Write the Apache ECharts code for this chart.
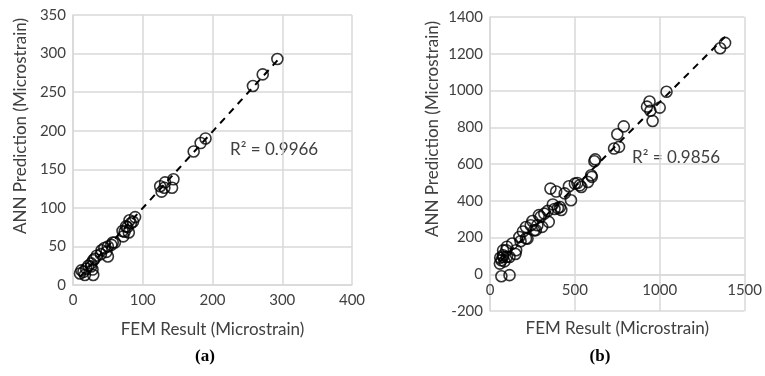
<!DOCTYPE html>
<html>
<head>
<meta charset="utf-8">
<script src="https://cdn.jsdelivr.net/npm/echarts@6/dist/echarts.min.js"></script>
<style>html,body{margin:0;padding:0;background:#fff}#c{width:765px;height:376px}</style>
</head>
<body>
<div id="c"></div>
<script>
// ---- Panel (a) data ----
const femA = [293,272,258,190,183,173,144,142,132,127,81,83,78,74,72,80,86,50,45,55,50,48,29,26,34,26,29,12,17,10,19,40,60,28,15,76,131,125,89,71,57,41,22,31];
const annA = [293,273,258,190,184,173,137,126,133,121,84,80,75,69,63,68,82,50,48,52,37,43,32,28,38,24,13,19,13,15,21,40,55,20,17,76,126,128,88,70,55,45,25,34];
const trendAx = [10, 295];
const trendAy = [10.5, 293];
const r2A = 'R² = 0.9966';

// ---- Panel (b) data ----
const femB = [1385,1356,1040,1000,940,925,958,945,788,750,760,731,615,620,600,577,515,538,465,477,440,356,390,412,420,370,346,288,298,307,270,250,279,212,240,260,194,173,212,221,131,100,154,96,100,77,115,77,67,58,77,67,115,380,400,500,529,596,320,340,150,180,60,85];
const annB = [1259,1230,993,907,940,912,834,890,805,762,693,684,615,625,530,502,497,475,479,403,440,466,450,366,350,380,285,322,312,258,240,290,267,257,267,239,233,203,195,194,167,150,131,131,95,94,94,103,76,58,130,-11,-5,355,360,493,484,539,330,345,110,180,90,70];
const trendBx = [58, 1385];
const trendBy = [68, 1292];
const r2B = 'R² = 0.9856';

const xTitle = 'FEM Result (Microstrain)';
const yTitle = 'ANN Prediction (Microstrain)';
const xTicksA = {min:0, max:400, interval:100};
const yTicksA = {min:0, max:350, interval:50};
const xTicksB = {min:0, max:1500, interval:500};
const yTicksB = {min:-200, max:1400, interval:200};

const pairs = (xs, ys) => xs.map((x, i) => [x, ys[i]]);

const FONT = 'Lato';
const labelColor = '#404040';
const gridColor = '#d9d9d9';

// grid geometry
const gA = {left:73, top:15, width:279, height:270};
const gB = {left:490, top:17, width:260, height:294};
// offset moving panel (b)'s x axis up to its zero line (Excel style crossing)
const zeroOffB = -gB.height * (0 - yTicksB.min) / (yTicksB.max - yTicksB.min);

function xAxisCfg(idx, t, gap, off) {
  return {
    type:'value', gridIndex: idx, min:t.min, max:t.max, interval:t.interval,
    position:'bottom', offset: off,
    name: xTitle, nameLocation:'middle', nameGap: gap,
    nameTextStyle:{fontFamily:FONT, fontSize:17, color:labelColor},
    axisLine:{show:true, onZero:false, lineStyle:{color:gridColor, width:1.5}},
    axisTick:{show:false},
    axisLabel:{fontFamily:FONT, fontSize:15, color:labelColor, margin:8, formatter: v => String(v)},
    splitLine:{show:true, lineStyle:{color:gridColor, width:1.5}}
  };
}
function yAxisCfg(idx, t) {
  return {
    type:'value', gridIndex: idx, min:t.min, max:t.max, interval:t.interval,
    axisLine:{show:true, onZero:false, lineStyle:{color:gridColor, width:1.5}},
    axisTick:{show:false},
    axisLabel:{fontFamily:FONT, fontSize:15, color:labelColor, margin:7, formatter: v => String(v)},
    splitLine:{show:true, lineStyle:{color:gridColor, width:1.5}}
  };
}
function scatter(idx, xs, ys) {
  return {
    type:'scatter', xAxisIndex: idx, yAxisIndex: idx,
    data: pairs(xs, ys), symbol:'circle', symbolSize: 11,
    itemStyle:{color:'rgba(0,0,0,0)', borderColor:'#000', borderWidth:1.6},
    emphasis:{disabled:true}, z:3
  };
}
function trend(idx, xs, ys) {
  return {
    type:'line', xAxisIndex: idx, yAxisIndex: idx,
    data: pairs(xs, ys), symbol:'none',
    lineStyle:{color:'#000', width:2, type:[7,6]}, z:4, silent:true
  };
}

const chart = echarts.init(document.getElementById('c'), null, {renderer:'canvas'});
chart.setOption({
  animation:false,
  backgroundColor:'#fff',
  grid:[gA, gB],
  xAxis:[xAxisCfg(0, xTicksA, 36, 0), xAxisCfg(1, xTicksB, 46, zeroOffB)],
  yAxis:[yAxisCfg(0, yTicksA), yAxisCfg(1, yTicksB)],
  series:[
    trend(0, trendAx, trendAy), scatter(0, femA, annA),
    trend(1, trendBx, trendBy), scatter(1, femB, annB)
  ],
  graphic:[
    {type:'text', x:21, y:126, rotation:Math.PI/2, style:{text:yTitle, font:'17px Lato', fill:labelColor, align:'center', verticalAlign:'middle'}},
    {type:'text', x:433, y:129, rotation:Math.PI/2, style:{text:yTitle, font:'17px Lato', fill:labelColor, align:'center', verticalAlign:'middle'}},
    {type:'text', x:230, y:150, style:{text:r2A, font:'17px Lato', fill:labelColor, align:'left', verticalAlign:'middle'}},
    {type:'text', x:632, y:158, style:{text:r2B, font:'17px Lato', fill:labelColor, align:'left', verticalAlign:'middle'}},
    {type:'text', x:205, y:357, style:{text:'(a)', font:'bold 17px "Liberation Serif"', fill:'#000', align:'center', verticalAlign:'middle'}},
    {type:'text', x:600, y:357, style:{text:'(b)', font:'bold 17px "Liberation Serif"', fill:'#000', align:'center', verticalAlign:'middle'}}
  ]
});
</script>
</body>
</html>
